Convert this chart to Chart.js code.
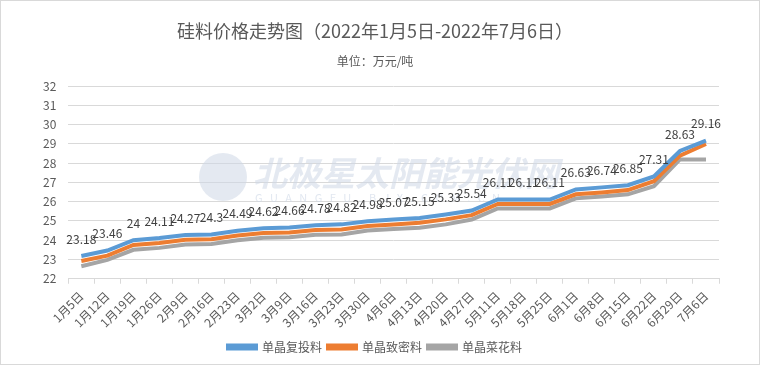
<!DOCTYPE html>
<html>
<head>
<meta charset="utf-8">
<script src="https://cdn.jsdelivr.net/npm/chart.js@4/dist/chart.umd.min.js"></script>
<style>
    body { margin: 0; background: #fff; }
    #wrap { width: 760px; height: 365px; box-sizing: border-box; border: 1px solid #d9d9d9; }
</style>
</head>
<body>
<div id="wrap"><canvas id="price-chart" width="758" height="363"></canvas></div>
<script>
const labels = ['1月5日', '1月12日', '1月19日', '1月26日', '2月9日', '2月16日', '2月23日', '3月2日', '3月9日',
    '3月16日', '3月23日', '3月30日', '4月6日', '4月13日', '4月20日', '4月27日', '5月11日', '5月18日',
    '5月25日', '6月1日', '6月8日', '6月15日', '6月22日', '6月29日', '7月6日'];

const fuTou = [23.18, 23.46, 24, 24.11, 24.27, 24.3, 24.49, 24.62, 24.66, 24.78, 24.82, 24.98, 25.07,
    25.15, 25.33, 25.54, 26.11, 26.11, 26.11, 26.63, 26.74, 26.85, 27.31, 28.63, 29.16];
const zhiMi = [22.92, 23.2, 23.75, 23.85, 24.02, 24.05, 24.24, 24.37, 24.4, 24.53, 24.56, 24.73, 24.81,
    24.9, 25.08, 25.3, 25.88, 25.88, 25.88, 26.38, 26.48, 26.6, 27.06, 28.39, 28.99];
const caiHua = [22.65, 22.98, 23.5, 23.6, 23.78, 23.8, 24.0, 24.13, 24.15, 24.28, 24.3, 24.5, 24.58,
    24.65, 24.82, 25.07, 25.65, 25.65, 25.65, 26.17, 26.27, 26.38, 26.8, 28.19, 28.19];

const yTicks = [22, 23, 24, 25, 26, 27, 28, 29, 30, 31, 32];

const textColor = '#595959';
const gridColor = '#d9d9d9';
const fontFamily = '"Noto Sans CJK SC", "Liberation Sans", sans-serif';

// labels above the blue line
const valueLabels = {
    id: 'valueLabels',
    afterDatasetsDraw(chart) {
        const ctx = chart.ctx;
        const meta = chart.getDatasetMeta(0);
        ctx.save();
        ctx.font = '12px ' + fontFamily;
        ctx.fillStyle = '#404040';
        ctx.textAlign = 'center';
        ctx.textBaseline = 'middle';
        meta.data.forEach((pt, i) => {
            ctx.fillText(String(fuTou[i]), pt.x, pt.y - 17);
        });
        ctx.restore();
    }
};

// faint site watermark
const watermark = {
    id: 'watermark',
    beforeDatasetsDraw(chart) {
        const ctx = chart.ctx;
        ctx.save();
        ctx.fillStyle = 'rgba(205, 215, 230, 0.55)';
        ctx.beginPath();
        ctx.arc(222, 176, 24, 0, Math.PI * 2);
        ctx.fill();
        ctx.font = 'italic bold 34px ' + fontFamily;
        ctx.textBaseline = 'middle';
        ctx.fillText('北极星太阳能光伏网', 252, 172);
        ctx.font = '11px ' + fontFamily;
        ctx.fillStyle = 'rgba(205, 215, 230, 0.6)';
        ctx.fillText('G   U   A   N   G   F   U   .   B   J   X   .   C   O   M   .   C   N', 254, 197);
        ctx.restore();
    }
};

function lineSet(label, data, color) {
    return {
        label,
        data,
        borderColor: color,
        backgroundColor: color,
        borderWidth: 4,
        pointRadius: 0,
        tension: 0,
        fill: false
    };
}

new Chart(document.getElementById('price-chart'), {
    type: 'line',
    data: {
        labels,
        datasets: [
            lineSet('单晶复投料', fuTou, '#5b9bd5'),
            lineSet('单晶致密料', zhiMi, '#ed7d31'),
            lineSet('单晶菜花料', caiHua, '#a5a5a5')
        ]
    },
    options: {
        responsive: false,
        animation: false,
        layout: { padding: { left: 30, right: 40, top: 8, bottom: 1 } },
        plugins: {
            title: {
                display: true,
                text: '硅料价格走势图（2022年1月5日-2022年7月6日）',
                color: textColor,
                font: { family: fontFamily, size: 18, weight: 'normal' },
                padding: { top: 11, bottom: 11 }
            },
            subtitle: {
                display: true,
                text: '单位：万元/吨',
                color: textColor,
                font: { family: fontFamily, size: 12 },
                padding: { top: 2, bottom: 17 }
            },
            legend: {
                position: 'bottom',
                labels: {
                    color: textColor,
                    font: { family: fontFamily, size: 12 },
                    boxWidth: 28,
                    boxHeight: 3,
                    padding: 6
                }
            },
            tooltip: { enabled: false }
        },
        scales: {
            x: {
                offset: true,
                grid: { drawOnChartArea: false, drawTicks: true, tickLength: 5, offset: true, color: gridColor },
                border: { color: gridColor },
                ticks: {
                    color: textColor,
                    font: { family: fontFamily, size: 12 },
                    maxRotation: 45,
                    minRotation: 45,
                    autoSkip: false,
                    padding: 5
                }
            },
            y: {
                min: yTicks[0],
                max: yTicks[yTicks.length - 1],
                afterBuildTicks(axis) {
                    axis.ticks = yTicks.map(v => ({ value: v }));
                },
                grid: { color: gridColor, drawTicks: false },
                border: { display: false },
                ticks: {
                    color: textColor,
                    font: { family: fontFamily, size: 12 },
                    padding: 12
                }
            }
        }
    },
    plugins: [watermark, valueLabels]
});
</script>
</body>
</html>
